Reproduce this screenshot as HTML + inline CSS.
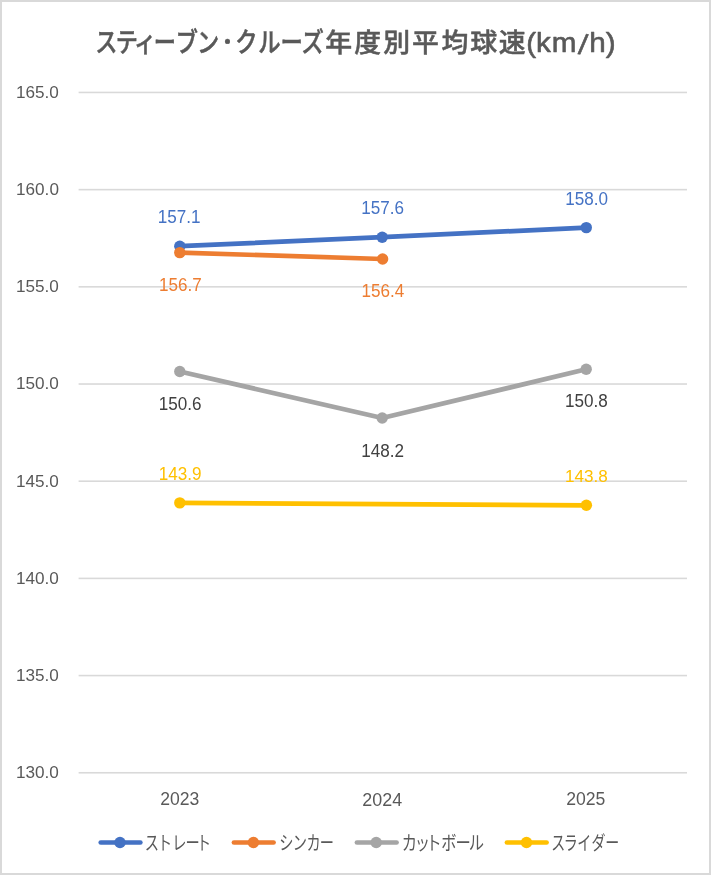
<!DOCTYPE html>
<html lang="ja"><head><meta charset="utf-8"><title>スティーブン・クルーズ年度別平均球速(km/h)</title>
<style>
html,body{margin:0;padding:0;background:#fff;}
body{width:711px;height:876px;overflow:hidden;position:relative;}
svg{position:absolute;left:0;top:0;display:block;}
.n{font-family:"Liberation Sans","Noto Sans CJK JP",sans-serif;font-size:17.8px;}
</style></head><body>
<svg width="711" height="876" viewBox="0 0 711 876">
<rect x="0" y="0" width="711" height="876" fill="#fff"/>
<rect x="1" y="1" width="709" height="873" fill="#fff" stroke="#D9D9D9" stroke-width="2"/>
<g id="title"><text transform="translate(0,52.04) scale(0.8100,1)" x="117.68 142.80 165.59 189.78 216.93 243.35" y="0" style='font-family:"Liberation Sans","Noto Sans CJK JP",sans-serif;font-size:27.4px;font-weight:500' fill="#595959" stroke="#595959" stroke-width="0.494" stroke-linejoin="round">スティーブン</text><text x="217.3" y="49.0" style='font-family:"Liberation Sans","Noto Sans CJK JP",sans-serif;font-size:20.5px;font-weight:500' fill="#595959" stroke="#595959" stroke-width="0.4">・</text><text transform="translate(0,52.04) scale(0.8162,1)" x="288.15 316.45 343.59 369.37" y="0" style='font-family:"Liberation Sans","Noto Sans CJK JP",sans-serif;font-size:27.4px;font-weight:500' fill="#595959" stroke="#595959" stroke-width="0.490" stroke-linejoin="round">クルーズ</text><text transform="translate(0,51.80) scale(1.0259,1)" x="316.94 345.36 373.47 401.55 430.34 458.45 486.05" y="0" style='font-family:"Liberation Sans","Noto Sans CJK JP",sans-serif;font-size:26.2px;font-weight:500' fill="#595959" stroke="#595959" stroke-width="0.487" stroke-linejoin="round">年度別平均球速</text><text transform="translate(0,52.30) scale(1.0500,1)" x="501.29 510.52 525.55 550.22 561.27 576.86" y="0 0 0 1.5 0 0" rotate="0 0 0 7 0 0" style='font-family:"Liberation Sans","Noto Sans CJK JP",sans-serif;font-size:28.2px;font-weight:400' fill="#595959" stroke="#595959" stroke-width="0.619" stroke-linejoin="round">(km/h)</text></g>
<g id="grid"><rect x="78.6" y="91.65" width="608.4" height="1.6" fill="#D9D9D9"/>
<rect x="78.6" y="188.84" width="608.4" height="1.6" fill="#D9D9D9"/>
<rect x="78.6" y="286.03" width="608.4" height="1.6" fill="#D9D9D9"/>
<rect x="78.6" y="383.22" width="608.4" height="1.6" fill="#D9D9D9"/>
<rect x="78.6" y="480.41" width="608.4" height="1.6" fill="#D9D9D9"/>
<rect x="78.6" y="577.60" width="608.4" height="1.6" fill="#D9D9D9"/>
<rect x="78.6" y="674.78" width="608.4" height="1.6" fill="#D9D9D9"/>
<rect x="78.6" y="771.97" width="608.4" height="1.6" fill="#D9D9D9"/></g>
<g id="ylabels"><text transform="translate(16.00,97.51) scale(0.9635,0.9569)" class="n" fill="#595959">165.0</text>
<text transform="translate(16.00,194.78) scale(0.9635,0.9591)" class="n" fill="#595959">160.0</text>
<text transform="translate(16.00,292.05) scale(0.9635,0.9613)" class="n" fill="#595959">155.0</text>
<text transform="translate(16.00,389.32) scale(0.9635,0.9636)" class="n" fill="#595959">150.0</text>
<text transform="translate(16.00,486.59) scale(0.9635,0.9658)" class="n" fill="#595959">145.0</text>
<text transform="translate(16.00,583.87) scale(0.9635,0.9681)" class="n" fill="#595959">140.0</text>
<text transform="translate(16.00,681.14) scale(0.9635,0.9703)" class="n" fill="#595959">135.0</text>
<text transform="translate(16.00,778.41) scale(0.9635,0.9725)" class="n" fill="#595959">130.0</text></g>
<g id="xlabels"><text transform="translate(160.16,805.40) scale(0.9881,0.9882)" class="n" fill="#595959">2023</text>
<text transform="translate(362.34,805.50) scale(1.0053,0.9961)" class="n" fill="#595959">2024</text>
<text transform="translate(566.16,805.40) scale(0.9907,0.9882)" class="n" fill="#595959">2025</text></g>
<g id="series"><polyline points="179.80,246.20 382.20,237.20 586.30,227.60" fill="none" stroke="#4472C4" stroke-width="4.7" stroke-linejoin="round" stroke-linecap="round"/>
<circle cx="179.80" cy="246.20" r="5.7" fill="#4472C4"/>
<circle cx="382.20" cy="237.20" r="5.7" fill="#4472C4"/>
<circle cx="586.30" cy="227.60" r="5.7" fill="#4472C4"/>
<polyline points="179.80,252.60 382.60,259.00" fill="none" stroke="#ED7D31" stroke-width="4.7" stroke-linejoin="round" stroke-linecap="round"/>
<circle cx="179.80" cy="252.60" r="5.7" fill="#ED7D31"/>
<circle cx="382.60" cy="259.00" r="5.7" fill="#ED7D31"/>
<polyline points="179.80,371.50 382.20,418.00 586.20,369.30" fill="none" stroke="#A5A5A5" stroke-width="4.7" stroke-linejoin="round" stroke-linecap="round"/>
<circle cx="179.80" cy="371.50" r="5.7" fill="#A5A5A5"/>
<circle cx="382.20" cy="418.00" r="5.7" fill="#A5A5A5"/>
<circle cx="586.20" cy="369.30" r="5.7" fill="#A5A5A5"/>
<polyline points="179.80,502.90 586.40,505.30" fill="none" stroke="#FFC000" stroke-width="4.7" stroke-linejoin="round" stroke-linecap="round"/>
<circle cx="179.80" cy="502.90" r="5.7" fill="#FFC000"/>
<circle cx="586.40" cy="505.30" r="5.7" fill="#FFC000"/></g>
<g id="dlabels"><text transform="translate(157.83,222.60) scale(0.9610,0.9920)" class="n" fill="#4472C4">157.1</text>
<text transform="translate(361.23,214.30) scale(0.9610,1.0039)" class="n" fill="#4472C4">157.6</text>
<text transform="translate(565.13,204.50) scale(0.9610,0.9882)" class="n" fill="#4472C4">158.0</text>
<text transform="translate(158.90,290.50) scale(0.9610,0.9882)" class="n" fill="#ED7D31">156.7</text>
<text transform="translate(361.46,296.50) scale(0.9610,0.9804)" class="n" fill="#ED7D31">156.4</text>
<text transform="translate(158.78,409.70) scale(0.9610,0.9961)" class="n" fill="#404040">150.6</text>
<text transform="translate(361.30,456.50) scale(0.9610,0.9804)" class="n" fill="#404040">148.2</text>
<text transform="translate(565.03,406.50) scale(0.9610,0.9804)" class="n" fill="#404040">150.8</text>
<text transform="translate(158.78,479.70) scale(0.9610,0.9804)" class="n" fill="#FFC000">143.9</text>
<text transform="translate(564.98,482.31) scale(0.9610,0.9725)" class="n" fill="#FFC000">143.8</text></g>
<g id="legend"><line x1="100.75" y1="842.5" x2="140.35" y2="842.5" stroke="#4472C4" stroke-width="4.7" stroke-linecap="round"/>
<circle cx="120.00" cy="842.5" r="5.7" fill="#4472C4"/>
<line x1="233.95" y1="842.5" x2="273.55" y2="842.5" stroke="#ED7D31" stroke-width="4.7" stroke-linecap="round"/>
<circle cx="253.40" cy="842.5" r="5.7" fill="#ED7D31"/>
<line x1="356.95" y1="842.5" x2="396.55" y2="842.5" stroke="#A5A5A5" stroke-width="4.7" stroke-linecap="round"/>
<circle cx="376.20" cy="842.5" r="5.7" fill="#A5A5A5"/>
<line x1="506.95" y1="842.5" x2="546.55" y2="842.5" stroke="#FFC000" stroke-width="4.7" stroke-linecap="round"/>
<circle cx="526.50" cy="842.5" r="5.7" fill="#FFC000"/>
<text transform="translate(0,849.60) scale(0.7417,1)" x="195.10 212.69 232.40 250.24 265.33" y="0" style='font-family:"Liberation Sans","Noto Sans CJK JP",sans-serif;font-size:19.2px;font-weight:400' fill="#595959">ストレート</text>
<text transform="translate(0,849.60) scale(0.7400,1)" x="377.34 395.49 414.34 432.06" y="0" style='font-family:"Liberation Sans","Noto Sans CJK JP",sans-serif;font-size:19.2px;font-weight:400' fill="#595959">シンカー</text>
<text transform="translate(0,849.60) scale(0.7977,1)" x="503.68 519.85 534.34 553.26 570.87 587.67" y="0" style='font-family:"Liberation Sans","Noto Sans CJK JP",sans-serif;font-size:19.2px;font-weight:400' fill="#595959">カットボール</text>
<text transform="translate(0,849.60) scale(0.7292,1)" x="755.89 773.12 791.50 811.31 829.95" y="0" style='font-family:"Liberation Sans","Noto Sans CJK JP",sans-serif;font-size:19.2px;font-weight:400' fill="#595959">スライダー</text></g>
</svg>
</body></html>
